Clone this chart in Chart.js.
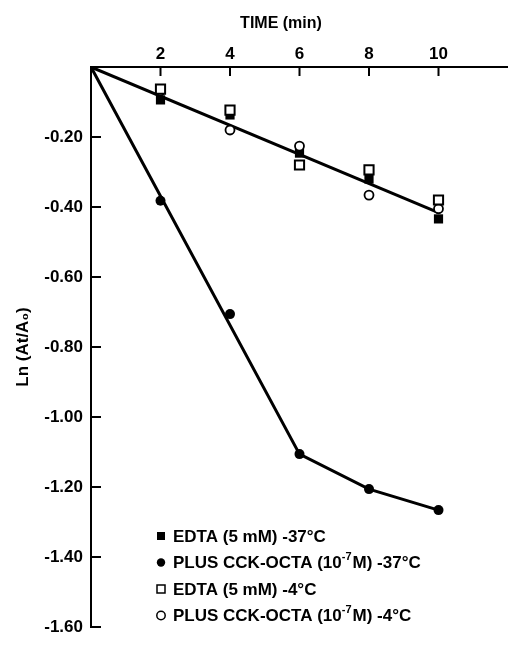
<!DOCTYPE html>
<html>
<head>
<meta charset="utf-8">
<script src="https://cdn.jsdelivr.net/npm/chart.js@4"></script>
<style>
    html, body { margin: 0; padding: 0; background: #fff; }
    #wrap { width: 508px; height: 648px; position: relative; }
</style>
</head>
<body>
<div id="wrap"><canvas id="chart"></canvas></div>
<script>
// time points (min)
const times = [2, 4, 6, 8, 10];
// Ln(At/A0)
const edta37 = [-0.094, -0.137, -0.246, -0.320, -0.434];
const cck37 = [-0.382, -0.706, -1.106, -1.206, -1.266];
const edta4 = [-0.063, -0.123, -0.280, -0.294, -0.380];
const cck4 = [-0.068, -0.180, -0.226, -0.366, -0.405];
// drawn lines
const edtaLineX = [0, 10];
const edtaLineY = [0, -0.416];
const cckLineX = [0, 6, 8, 10];
const cckLineY = [0, -1.106, -1.206, -1.266];
// axes
const xTicks = [2, 4, 6, 8, 10];
const yTicks = [-0.2, -0.4, -0.6, -0.8, -1.0, -1.2, -1.4, -1.6];

const labels = [
    'EDTA (5 mM) -37°C',
    'PLUS CCK-OCTA (10⁻⁷M) -37°C',
    'EDTA (5 mM) -4°C',
    'PLUS CCK-OCTA (10⁻⁷M) -4°C'
];

function pts(xs, ys) {
    return xs.map((x, i) => ({ x: x, y: ys[i] }));
}

const FONT = '"Liberation Sans", Arial, sans-serif';

// text with the "10⁻⁷" superscript drawn by hand
function drawLabel(ctx, text, x, y) {
    const parts = text.split('⁻⁷');
    ctx.font = 'bold 17px ' + FONT;
    ctx.fillText(parts[0], x, y);
    if (parts.length < 2) return;
    let w = ctx.measureText(parts[0]).width;
    ctx.font = 'bold 11px ' + FONT;
    ctx.fillText('-7', x + w, y - 7);
    w += ctx.measureText('-7').width + 1;
    ctx.font = 'bold 17px ' + FONT;
    ctx.fillText(parts[1], x + w, y);
}

// ticks pointing into the plot, top title, legend
const extras = {
    id: 'extras',
    afterDraw(chart) {
        const ctx = chart.ctx;
        const area = chart.chartArea;
        const xs = chart.scales.x, ys = chart.scales.y;
        ctx.save();
        ctx.strokeStyle = '#000';
        ctx.lineWidth = 2;
        ctx.beginPath();
        xTicks.forEach(v => {
            const p = xs.getPixelForValue(v);
            ctx.moveTo(p, area.top);
            ctx.lineTo(p, area.top + 9);
        });
        yTicks.forEach(v => {
            const p = ys.getPixelForValue(v);
            ctx.moveTo(area.left, p);
            ctx.lineTo(area.left + 10, p);
        });
        ctx.stroke();

        ctx.fillStyle = '#000';
        ctx.font = 'bold 16px ' + FONT;
        ctx.textAlign = 'center';
        ctx.textBaseline = 'middle';
        ctx.fillText('TIME (min)', 281, 24);

        const styles = [
            { shape: 'rect', fill: true },
            { shape: 'circle', fill: true },
            { shape: 'rect', fill: false },
            { shape: 'circle', fill: false }
        ];
        ctx.textAlign = 'left';
        styles.forEach((s, i) => {
            const y = area.bottom - 91 + i * 26.5;
            const x = area.left + 70;
            ctx.beginPath();
            if (s.shape === 'rect') {
                ctx.rect(x - 4, y - 4, 8, 8);
            } else {
                ctx.arc(x, y, 4.2, 0, Math.PI * 2);
            }
            if (s.fill) {
                ctx.fill();
            } else {
                ctx.lineWidth = 1.5;
                ctx.stroke();
            }
            drawLabel(ctx, labels[i], x + 12, y + 1);
        });
        ctx.restore();
    }
};

const markerBase = { showLine: false, borderColor: '#000', pointBorderColor: '#000' };

new Chart(document.getElementById('chart'), {
    type: 'scatter',
    data: {
        datasets: [
            Object.assign({}, markerBase, {
                label: labels[2], data: pts(times, edta4), order: 1,
                pointStyle: 'rect', pointRadius: 6.5, pointBackgroundColor: '#fff', pointBorderWidth: 2
            }),
            Object.assign({}, markerBase, {
                label: labels[3], data: pts(times, cck4), order: 2,
                pointStyle: 'circle', pointRadius: 4.5, pointBackgroundColor: '#fff', pointBorderWidth: 1.8
            }),
            Object.assign({}, markerBase, {
                label: labels[0], data: pts(times, edta37), order: 3,
                pointStyle: 'rect', pointRadius: 6.5, pointBackgroundColor: '#000', pointBorderWidth: 0
            }),
            Object.assign({}, markerBase, {
                label: labels[1], data: pts(times, cck37), order: 4,
                pointStyle: 'circle', pointRadius: 5, pointBackgroundColor: '#000', pointBorderWidth: 0
            }),
            {
                label: 'edta line', data: pts(edtaLineX, edtaLineY), order: 10,
                showLine: true, borderColor: '#000', borderWidth: 3, pointRadius: 0
            },
            {
                label: 'cck line', data: pts(cckLineX, cckLineY), order: 11,
                showLine: true, borderColor: '#000', borderWidth: 3, pointRadius: 0
            }
        ]
    },
    options: {
        responsive: true,
        maintainAspectRatio: false,
        animation: false,
        layout: { autoPadding: false, padding: { top: 0, right: 0, bottom: 21, left: 0 } },
        plugins: {
            legend: { display: false },
            tooltip: { enabled: false }
        },
        scales: {
            x: {
                type: 'linear',
                position: 'top',
                min: 0,
                max: 12,
                afterBuildTicks: s => { s.ticks = xTicks.map(v => ({ value: v })); },
                afterFit: s => { s.height = 67; },
                grid: { display: false, drawTicks: false },
                border: { display: true, color: '#000', width: 2 },
                ticks: {
                    color: '#000',
                    font: { family: FONT, size: 17, weight: 'bold' },
                    padding: 2,
                    maxRotation: 0
                }
            },
            y: {
                type: 'linear',
                min: -1.6,
                max: 0,
                afterBuildTicks: s => { s.ticks = yTicks.map(v => ({ value: v })); },
                afterFit: s => { s.width = 91; },
                grid: { display: false, drawTicks: false },
                border: { display: true, color: '#000', width: 2 },
                ticks: {
                    color: '#000',
                    font: { family: FONT, size: 17, weight: 'bold' },
                    padding: 8,
                    callback: v => v.toFixed(2)
                },
                title: {
                    display: true,
                    text: 'Ln (At/A₀)',
                    color: '#000',
                    font: { family: FONT, size: 17, weight: 'bold' },
                    padding: { top: 13, bottom: 0 }
                }
            }
        }
    },
    plugins: [extras]
});
</script>
</body>
</html>
